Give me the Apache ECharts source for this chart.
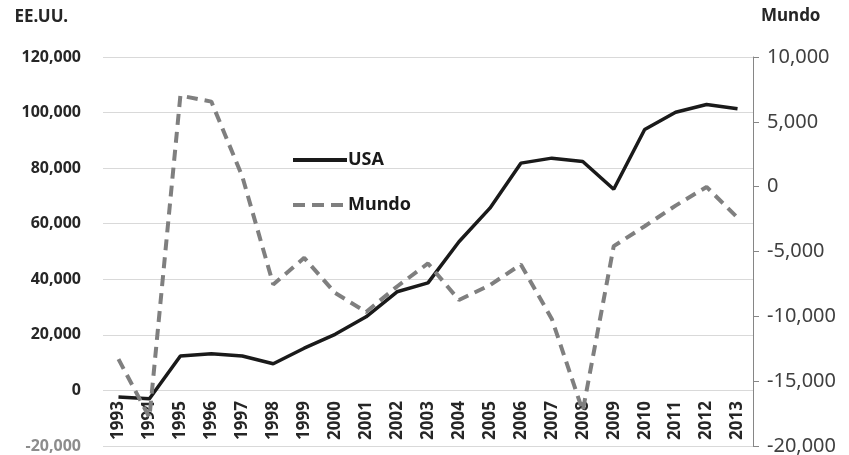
<!DOCTYPE html>
<html>
<head>
<meta charset="utf-8">
<script src="https://cdn.jsdelivr.net/npm/echarts@6/dist/echarts.min.js"></script>
<style>
  html, body { margin: 0; padding: 0; background: #fff; }
  #chart { width: 849px; height: 455px; }
</style>
</head>
<body>
<div id="chart"></div>
<script>
    // años
    let years = ['1993', '1994', '1995', '1996', '1997', '1998', '1999', '2000', '2001', '2002', '2003',
        '2004', '2005', '2006', '2007', '2008', '2009', '2010', '2011', '2012', '2013']
    // eje izquierdo
    let usaValues = [-2400, -3000, 12400, 13200, 12400, 9600, 15200, 20200, 26500, 35500, 38700,
        53500, 65600, 81800, 83600, 82400, 72400, 93900, 100100, 102900, 101400]
    // eje derecho
    let mundoValues = [-13300, -17800, 7020, 6560, 790, -7540, -5490, -8200, -9660, -7700, -5920,
        -8740, -7600, -6000, -10200, -17300, -4590, -3050, -1460, -20, -2400]

    let chart = echarts.init(document.getElementById('chart'))
    chart.setOption({
        backgroundColor: '#ffffff',
        animation: false,
        legend: {
            left: 286,
            top: 146,
            orient: 'vertical',
            itemWidth: 54,
            itemHeight: 14,
            itemGap: 27,
            data: [
                { name: 'USA', lineStyle: { width: 4, color: '#1a1a1a' } },
                { name: 'Mundo', lineStyle: { width: 4, color: '#7f7f7f', type: [12, 7] } }
            ],
            itemStyle: { opacity: 0 },
            textStyle: {
                fontFamily: 'Noto Sans',
                fontWeight: 'bold',
                fontSize: 18,
                color: '#1a1a1a',
                padding: [0, 0, 0, -4]
            }
        },
        grid: {
            left: 103,
            right: 96,
            top: 57,
            bottom: 9,
            containLabel: false,
            outerBoundsMode: 'none'
        },
        xAxis: {
            type: 'category',
            data: years,
            boundaryGap: true,
            // etiquetas pegadas a la línea del 0
            offset: -56,
            axisLine: { show: false, onZero: false },
            axisTick: { show: false },
            axisLabel: {
                rotate: 90,
                margin: 11,
                interval: 0,
                fontFamily: 'Noto Sans',
                fontWeight: 'bold',
                fontSize: 17,
                color: '#262626'
            }
        },
        yAxis: [
            {
                type: 'value',
                min: -20000,
                max: 120000,
                interval: 20000,
                name: 'EE.UU.',
                nameLocation: 'end',
                nameGap: 31,
                nameTextStyle: {
                    fontFamily: 'Noto Sans',
                    fontWeight: 'bold',
                    fontSize: 17,
                    color: '#262626',
                    align: 'right',
                    padding: [0, 35, 0, 0]
                },
                axisLine: { show: false },
                axisTick: { show: false },
                axisLabel: {
                    margin: 22,
                    fontFamily: 'Noto Sans',
                    fontWeight: 'bold',
                    fontSize: 16,
                    color: function (val) {
                        return val < 0 ? '#8c8c8c' : '#262626'
                    },
                    formatter: function (v) {
                        return v.toLocaleString('en-US')
                    }
                },
                splitLine: { lineStyle: { color: '#d9d9d9', width: 1 } }
            },
            {
                type: 'value',
                min: -20000,
                max: 10000,
                interval: 5000,
                name: 'Mundo',
                nameLocation: 'end',
                nameGap: 32,
                nameTextStyle: {
                    fontFamily: 'Noto Sans',
                    fontWeight: 'bold',
                    fontSize: 17,
                    color: '#262626',
                    align: 'left',
                    padding: [0, 0, 0, 8]
                },
                axisLine: { show: true, lineStyle: { color: '#868686', width: 1 } },
                axisTick: { show: true, length: 6, lineStyle: { color: '#868686' } },
                axisLabel: {
                    margin: 14,
                    fontFamily: 'Noto Sans',
                    fontSize: 20,
                    color: '#404040',
                    formatter: function (v) {
                        return v.toLocaleString('en-US')
                    }
                },
                splitLine: { show: false }
            }
        ],
        series: [
            {
                name: 'USA',
                type: 'line',
                yAxisIndex: 0,
                data: usaValues,
                symbol: 'none',
                lineStyle: { color: '#1a1a1a', width: 3.5 },
                itemStyle: { color: '#1a1a1a' }
            },
            {
                name: 'Mundo',
                type: 'line',
                yAxisIndex: 1,
                data: mundoValues,
                symbol: 'none',
                lineStyle: { color: '#7f7f7f', width: 4, type: [11, 7] },
                itemStyle: { color: '#7f7f7f' }
            }
        ]
    })
</script>
</body>
</html>
